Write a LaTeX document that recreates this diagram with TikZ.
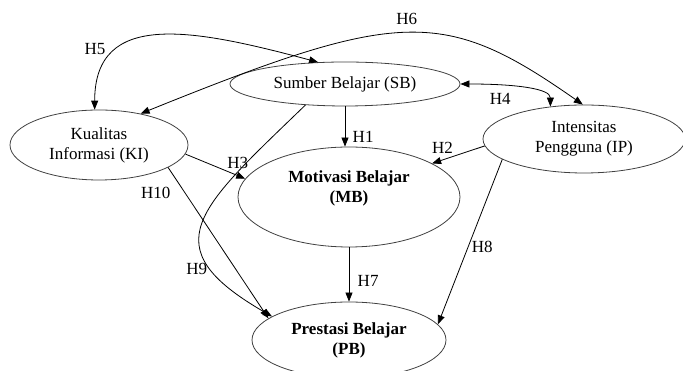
\documentclass[tikz,border=0pt]{standalone}
\usepackage{fontspec}
\setmainfont{Liberation Serif}
\usetikzlibrary{arrows.meta}
\usetikzlibrary{shapes.geometric}
\usetikzlibrary{positioning}
\tikzset{>={Triangle[length=9pt, width=7pt]}}
\tikzset{var/.style = {draw = black!75, ellipse, inner sep = 0, align = center}}

\begin{document}
\begin{tikzpicture}[x = 1pt, y = 1pt, line width = 0.8pt, font = \fontsize{17}{20}\selectfont]
      \useasboundingbox (0, 0) rectangle (683, 371);

      \node (sb) at (345, 287) [var, minimum width = 230pt, minimum height = 44pt] {Sumber Belajar (SB)};
      \node (ki) at (99, 226) [var, minimum width = 178pt, minimum height = 70pt] {Kualitas\\Informasi (KI)};
      \node (ip) at (584, 232) [var, minimum width = 202pt, minimum height = 68pt] {Intensitas\\Pengguna (IP)};
      \node (mb) at (349, 174) [var, minimum width = 222pt, minimum height = 100pt] {\textbf{Motivasi Belajar}\\\textbf{(MB)}\\\mbox{}};
      \node (pb) at (349, 31) [var, minimum width = 194pt, minimum height = 76pt] {\textbf{Prestasi Belajar}\\\textbf{(PB)}};

      \draw [->] (sb.south) -- (sb.south |- mb.north) node [pos = 0.75, right = 4pt] {H1};
      \draw [->] (ip.184) -- (mb.22) node [pos = 0.8, above = 3pt] {H2};
      \draw [->] (ki.-6) -- (mb.170) node [pos = 0.875, above = 3pt] {H3};
      \draw [<->] (sb.east) to [out = 0, in = 90, out distance = 55pt, in distance = 18pt] node [pos = 0.27, below = 4pt] {H4} (ip.136);
      \draw [<->] (ki.97) to [out = 90, in = 165, out distance = 100pt, in distance = 130pt] node [pos = 0.3, left = 10pt] {H5} (sb.141);
      \draw [<->] (ki.37) to [out = 22, in = 145, out distance = 280pt, in distance = 170pt] node [pos = 0.5, above = 5pt] {H6} (ip.92);
      \draw [->] (mb) -- (pb) node [pos = 0.62, right = 5pt] {H7};
      \draw [->] (ip.194) -- (pb.10) node [pos = 0.53, right] {H8};
      \draw [->] (sb.208) to [out = 224, in = 150, out distance = 150pt, in distance = 140pt] node [pos = 0.75, left] {H9} (pb.163);
      \draw [->] (ki.-18) -- (pb.165) node [pos = 0.17, left = 11pt] {H10};
    \end{tikzpicture}
\end{document}
